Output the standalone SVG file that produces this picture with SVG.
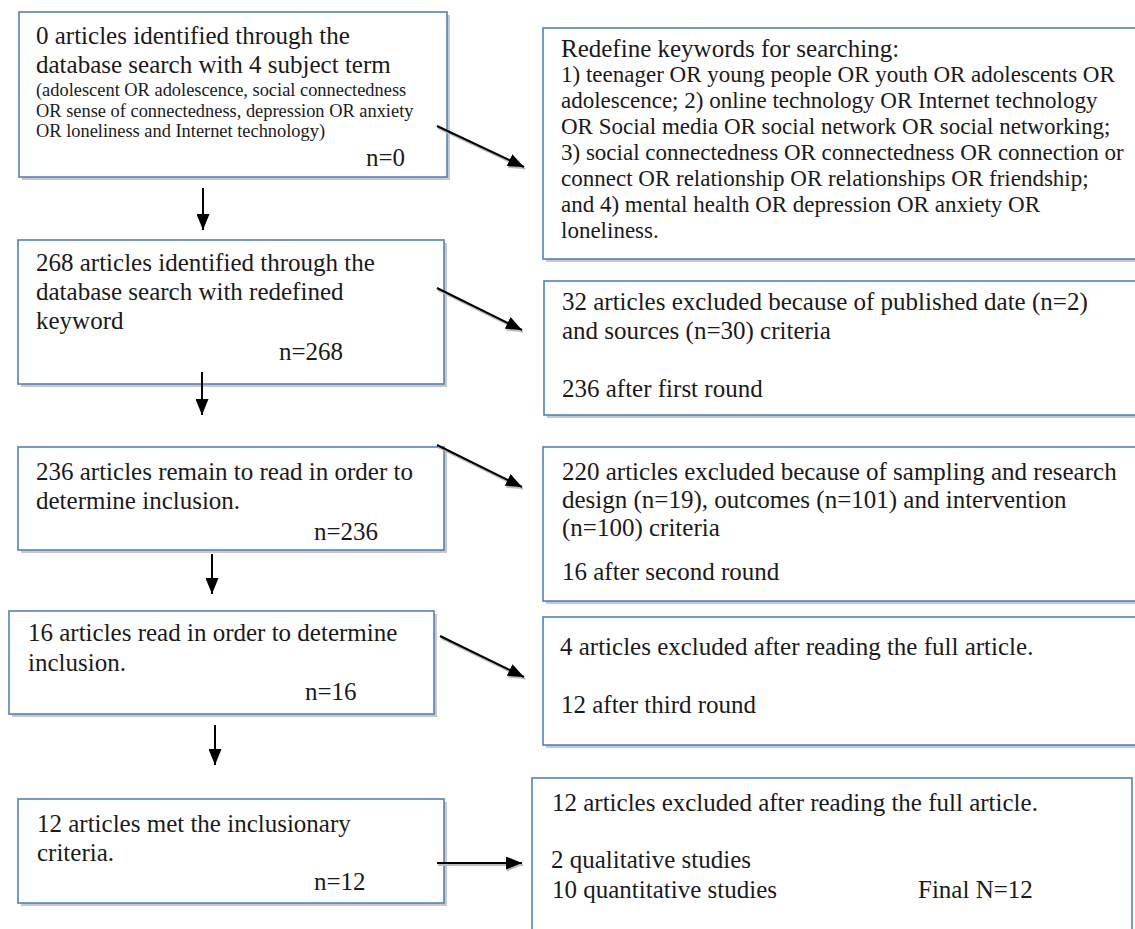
<svg xmlns="http://www.w3.org/2000/svg" width="1135" height="929" viewBox="0 0 1135 929">
<style>
.box{fill:#ffffff;stroke:#4f81bd;stroke-width:1.6}
.sh{fill:#c8c8c8}
.t{font-family:"Liberation Serif","Times New Roman",serif;font-size:25px;fill:#1a1a1a}
.tr{font-family:"Liberation Serif","Times New Roman",serif;font-size:23px;fill:#1a1a1a}
.ts{font-family:"Liberation Serif","Times New Roman",serif;font-size:18.4px;fill:#1a1a1a}
.ln{stroke:#000;stroke-width:2;fill:none;marker-end:url(#ah)}
.lns{stroke:#bdbdbd;stroke-width:2;fill:none;marker-end:url(#ahs)}
</style>
<defs>
<marker id="ah" markerUnits="userSpaceOnUse" markerWidth="17" markerHeight="13" refX="16" refY="6.5" orient="auto"><path d="M0,0 L16,6.5 L0,13 z" fill="#000"/></marker>
<marker id="ahs" markerUnits="userSpaceOnUse" markerWidth="17" markerHeight="13" refX="16" refY="6.5" orient="auto"><path d="M0,0 L16,6.5 L0,13 z" fill="#bdbdbd"/></marker>
</defs>
<rect width="1135" height="929" fill="#ffffff"/>

<g id="n1">
<rect class="sh" x="22" y="15" width="428" height="165"/>
<rect class="box" x="19" y="12" width="428" height="165"/>
<text class="t" x="36" y="44">0 articles identified through the</text>
<text class="t" x="36" y="73">database search with 4 subject term</text>
<text class="ts" x="36" y="96">(adolescent OR adolescence, social connectedness</text>
<text class="ts" x="36" y="117">OR sense of connectedness, depression OR anxiety</text>
<text class="ts" x="36" y="137">OR loneliness and Internet technology)</text>
<text class="t" x="366" y="166">n=0</text>
</g>

<g id="r1">
<rect class="sh" x="546" y="31" width="600" height="231"/>
<rect class="box" x="543" y="28" width="600" height="231"/>
<text class="t" x="561" y="57">Redefine keywords for searching:</text>
<text class="tr" x="561" y="82">1) teenager OR young people OR youth OR adolescents OR</text>
<text class="tr" x="561" y="108">adolescence; 2) online technology OR Internet technology</text>
<text class="tr" x="561" y="134">OR Social media OR social network OR social networking;</text>
<text class="tr" x="561" y="160">3) social connectedness OR connectedness OR connection or</text>
<text class="tr" x="561" y="186">connect OR relationship OR relationships OR friendship;</text>
<text class="tr" x="561" y="212">and 4) mental health OR depression OR anxiety OR</text>
<text class="tr" x="561" y="238">loneliness.</text>
</g>

<g id="n2">
<rect class="sh" x="21" y="243" width="426" height="144"/>
<rect class="box" x="18" y="240" width="426" height="144"/>
<text class="t" x="36" y="271">268 articles identified through the</text>
<text class="t" x="36" y="300">database search with redefined</text>
<text class="t" x="36" y="329">keyword</text>
<text class="t" x="279" y="360">n=268</text>
</g>

<g id="r2">
<rect class="sh" x="547" y="284" width="600" height="134"/>
<rect class="box" x="544" y="281" width="600" height="134"/>
<text class="t" x="562" y="310">32 articles excluded because of published date (n=2)</text>
<text class="t" x="562" y="339">and sources (n=30) criteria</text>
<text class="t" x="562" y="397">236 after first round</text>
</g>

<g id="n3">
<rect class="sh" x="21" y="450" width="426" height="103"/>
<rect class="box" x="18" y="447" width="426" height="103"/>
<text class="t" x="36" y="480">236 articles remain to read in order to</text>
<text class="t" x="36" y="509">determine inclusion.</text>
<text class="t" x="314" y="540">n=236</text>
</g>

<g id="r3">
<rect class="sh" x="546" y="450" width="600" height="154"/>
<rect class="box" x="543" y="447" width="600" height="154"/>
<text class="t" x="562" y="480">220 articles excluded because of sampling and research</text>
<text class="t" x="562" y="508">design (n=19), outcomes (n=101) and intervention</text>
<text class="t" x="562" y="536">(n=100) criteria</text>
<text class="t" x="562" y="580">16 after second round</text>
</g>

<g id="n4">
<rect class="sh" x="12" y="614" width="425" height="103"/>
<rect class="box" x="9" y="611" width="425" height="103"/>
<text class="t" x="28" y="641">16 articles read in order to determine</text>
<text class="t" x="28" y="671">inclusion.</text>
<text class="t" x="305" y="700">n=16</text>
</g>

<g id="r4">
<rect class="sh" x="546" y="620" width="600" height="128"/>
<rect class="box" x="543" y="617" width="600" height="128"/>
<text class="t" x="560" y="655">4 articles excluded after reading the full article.</text>
<text class="t" x="561" y="713">12 after third round</text>
</g>

<g id="n5">
<rect class="sh" x="21" y="802" width="426" height="104"/>
<rect class="box" x="18" y="799" width="426" height="104"/>
<text class="t" x="37" y="832">12 articles met the inclusionary</text>
<text class="t" x="37" y="861">criteria.</text>
<text class="t" x="314" y="890">n=12</text>
</g>

<g id="r5">
<rect class="box" x="532" y="778" width="600" height="170"/>
<text class="t" x="552" y="811">12 articles excluded after reading the full article.</text>
<text class="t" x="551" y="868">2 qualitative studies</text>
<text class="t" x="552" y="898">10 quantitative studies</text>
<text class="t" x="918" y="898">Final N=12</text>
</g>

<g id="connectors">
<line class="lns" x1="438" y1="128" x2="525" y2="169"/>
<line class="lns" x1="438" y1="290" x2="523" y2="332"/>
<line class="lns" x1="438" y1="447" x2="523" y2="489"/>
<line class="lns" x1="441" y1="638" x2="525" y2="679"/>
<line class="lns" x1="438" y1="865" x2="523" y2="865"/>
<line class="ln" x1="437" y1="126" x2="524" y2="167"/>
<line class="ln" x1="437" y1="288" x2="522" y2="330"/>
<line class="ln" x1="437" y1="445" x2="522" y2="487"/>
<line class="ln" x1="440" y1="636" x2="524" y2="677"/>
<line class="ln" x1="437" y1="863" x2="522" y2="863"/>
<line class="ln" x1="203" y1="188" x2="203" y2="230"/>
<line class="ln" x1="202" y1="372" x2="202" y2="415"/>
<line class="ln" x1="212" y1="554" x2="212" y2="594"/>
<line class="ln" x1="215" y1="725" x2="215" y2="765"/>
</g>
</svg>
